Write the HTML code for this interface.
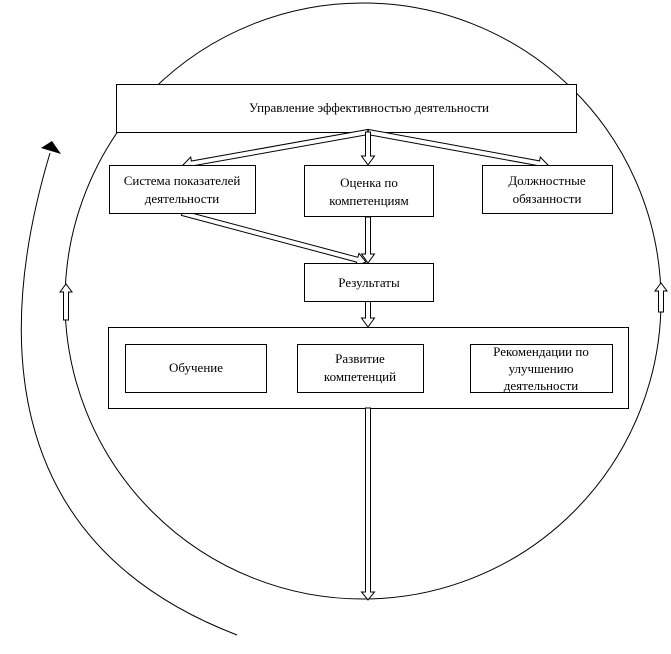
<!DOCTYPE html>
<html><head><meta charset="utf-8">
<style>
html,body{margin:0;padding:0;background:#fff;}
svg{display:block;}
text{font-family:"Liberation Serif",serif;font-size:13px;fill:#000;}
</style></head>
<body>
<svg id="s" width="671" height="654" viewBox="0 0 671 654" xmlns="http://www.w3.org/2000/svg">
<g fill="none" stroke="#000" stroke-width="1">
<circle cx="363" cy="301" r="298"/>
<path d="M50,153 C0,320 -10,540 237,635"/>
</g>
<polygon points="52,141 41,148 61,154" fill="#000"/>
<g fill="#fff" stroke="#000" stroke-width="1">
<rect x="116.5" y="84.5" width="460" height="48"/>
<rect x="108.5" y="327.5" width="520" height="81"/>
</g>
<g id="arrows"></g>
<g fill="#fff" stroke="#000" stroke-width="1">
<rect x="109.5" y="165.5" width="146" height="48"/>
<rect x="304.5" y="165.5" width="129" height="51"/>
<rect x="482.5" y="165.5" width="130" height="48"/>
<rect x="304.5" y="263.5" width="129" height="38"/>
<rect x="125.5" y="344.5" width="141" height="48"/>
<rect x="297.5" y="344.5" width="126" height="48"/>
<rect x="470.5" y="344.5" width="142" height="48"/>
</g>
<text x="369" y="112" text-anchor="middle">Управление эффективностью деятельности</text>
<text x="182" y="185" text-anchor="middle">Система показателей</text>
<text x="182" y="203" text-anchor="middle">деятельности</text>
<text x="369" y="187" text-anchor="middle">Оценка по</text>
<text x="369" y="205" text-anchor="middle">компетенциям</text>
<text x="547" y="185" text-anchor="middle">Должностные</text>
<text x="547" y="203" text-anchor="middle">обязанности</text>
<text x="369" y="287" text-anchor="middle">Результаты</text>
<text x="196" y="372" text-anchor="middle">Обучение</text>
<text x="360" y="363" text-anchor="middle">Развитие</text>
<text x="360" y="381" text-anchor="middle">компетенций</text>
<text x="541" y="356" text-anchor="middle">Рекомендации по</text>
<text x="541" y="373" text-anchor="middle">улучшению</text>
<text x="541" y="390" text-anchor="middle">деятельности</text>
</svg>
<script>
(function(){
var g=document.getElementById('arrows');
function arrow(x1,y1,x2,y2,sw,hw,hl){
 var dx=x2-x1,dy=y2-y1,L=Math.sqrt(dx*dx+dy*dy),ux=dx/L,uy=dy/L,nx=-uy,ny=ux;
 var bx=x2-ux*hl,by=y2-uy*hl;
 var p=[[x1+nx*sw,y1+ny*sw],[bx+nx*sw,by+ny*sw],[bx+nx*hw,by+ny*hw],[x2,y2],[bx-nx*hw,by-ny*hw],[bx-nx*sw,by-ny*sw],[x1-nx*sw,y1-ny*sw]];
 var el=document.createElementNS('http://www.w3.org/2000/svg','polygon');
 el.setAttribute('points',p.map(function(a){return a[0].toFixed(1)+','+a[1].toFixed(1)}).join(' '));
 el.setAttribute('fill','#fff');el.setAttribute('stroke','#000');el.setAttribute('stroke-width','1');
 g.appendChild(el);
}
arrow(368,132,183,165,2.5,6.5,9);
arrow(368,132,548,165,2.5,6.5,9);
arrow(368,132,368,165,2.5,6.5,9);
arrow(368,217,368,263,2.5,6.5,9);
arrow(182,213,366,262,2.5,6.5,9);
arrow(368,301,368,327,2.5,6.5,9);
arrow(368,408,368,600,2.5,6.5,8);
arrow(66,320,66,284,2.5,6,8);
arrow(661,312,661,283,2.5,6,8);
})();
</script>
</body></html>
